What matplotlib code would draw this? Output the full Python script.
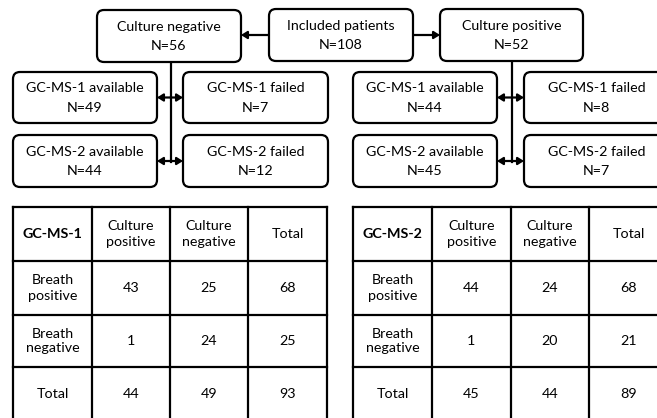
import matplotlib
matplotlib.use("Agg")
import matplotlib.pyplot as plt
from matplotlib.patches import FancyBboxPatch

# ---- data ----
total_label = "Included patients"
total_n = 108
branch_labels = ["Culture negative", "Culture positive"]
branch_n = [56, 52]
sub_labels = [["GC-MS-1 available", "GC-MS-1 failed"],
              ["GC-MS-2 available", "GC-MS-2 failed"]]
neg_sub_n = [[49, 7], [44, 12]]
pos_sub_n = [[44, 8], [45, 7]]

table_titles = ["GC-MS-1", "GC-MS-2"]
col_headers = ["Culture\npositive", "Culture\nnegative", "Total"]
row_headers = ["Breath\npositive", "Breath\nnegative", "Total"]
table1 = [[43, 25, 68], [1, 24, 25], [44, 49, 93]]
table2 = [[44, 24, 68], [1, 20, 21], [45, 44, 89]]

FONT = ["Lato", "DejaVu Sans"]
FS = 10.3
LW = 1.6

fig = plt.figure(figsize=(6.57, 4.18), dpi=100)
ax = fig.add_axes([0, 0, 1, 1])
ax.set_xlim(0, 657)
ax.set_ylim(418, 0)
ax.axis("off")


def box(x0, y0, x1, y1, line1, line2):
    p = FancyBboxPatch((x0, y0), x1 - x0, y1 - y0,
                       boxstyle="round,pad=0,rounding_size=7",
                       fc="white", ec="black", lw=LW, zorder=3)
    ax.add_patch(p)
    cx = (x0 + x1) / 2
    cy = (y0 + y1) / 2
    ax.text(cx, cy - 9, line1, ha="center", va="center", fontsize=FS,
            family=FONT, zorder=4)
    ax.text(cx, cy + 10, line2, ha="center", va="center", fontsize=FS,
            family=FONT, zorder=4)


def arrow(x0, y0, x1, y1, style="-|>"):
    ax.annotate("", xy=(x1, y1), xytext=(x0, y0),
                arrowprops=dict(arrowstyle=style + ",head_length=0.35,head_width=0.22",
                                lw=LW, color="black", shrinkA=0, shrinkB=0),
                zorder=2)


# top row
box(269, 9, 413, 61, total_label, f"N={total_n}")
box(97, 10, 241, 62, branch_labels[0], f"N={branch_n[0]}")
box(440, 9, 583, 61, branch_labels[1], f"N={branch_n[1]}")
arrow(269, 35, 241, 35)
arrow(413, 35, 440, 35)

# sub boxes
rows_y = [(72, 123), (135, 187)]
groups = [(13, 157, 183, 328, 170.5, 62, neg_sub_n),
          (353, 497, 524, 669, 512, 61, pos_sub_n)]
for (ax0, ax1, fx0, fx1, vx, vtop, nvals) in groups:
    ax.plot([vx, vx], [vtop, 162], color="black", lw=LW, zorder=2)
    for r, (y0, y1) in enumerate(rows_y):
        box(ax0, y0, ax1, y1, sub_labels[r][0], f"N={nvals[r][0]}")
        box(fx0, y0, fx1, y1, sub_labels[r][1], f"N={nvals[r][1]}")
        ym = (y0 + y1) / 2
        arrow(vx, ym, ax1, ym)
        arrow(vx, ym, fx0, ym)

# tables
row_edges = [207, 261, 315, 367, 420]
tables = [(table_titles[0], table1, [13, 92, 170, 248, 327]),
          (table_titles[1], table2, [353, 432, 511, 589, 668])]
for title, data, cols in tables:
    for yy in row_edges:
        ax.plot([cols[0], cols[-1]], [yy, yy], color="black", lw=LW,
                solid_capstyle="projecting", zorder=2)
    for xx in cols:
        ax.plot([xx, xx], [row_edges[0], row_edges[-1]], color="black", lw=LW,
                solid_capstyle="projecting", zorder=2)
    ccx = [(cols[i] + cols[i + 1]) / 2 for i in range(4)]
    ccy = [(row_edges[i] + row_edges[i + 1]) / 2 for i in range(4)]
    ax.text(ccx[0], ccy[0], title, ha="center", va="center", fontsize=FS,
            family=FONT, fontweight="bold")
    for j, h in enumerate(col_headers):
        ax.text(ccx[j + 1], ccy[0], h, ha="center", va="center", fontsize=FS,
                family=FONT, linespacing=1.3)
    for i, h in enumerate(row_headers):
        ax.text(ccx[0], ccy[i + 1], h, ha="center", va="center", fontsize=FS,
                family=FONT, linespacing=1.3)
        for j in range(3):
            ax.text(ccx[j + 1], ccy[i + 1], str(data[i][j]), ha="center",
                    va="center", fontsize=FS, family=FONT)

fig.savefig("out.png", dpi=100)
